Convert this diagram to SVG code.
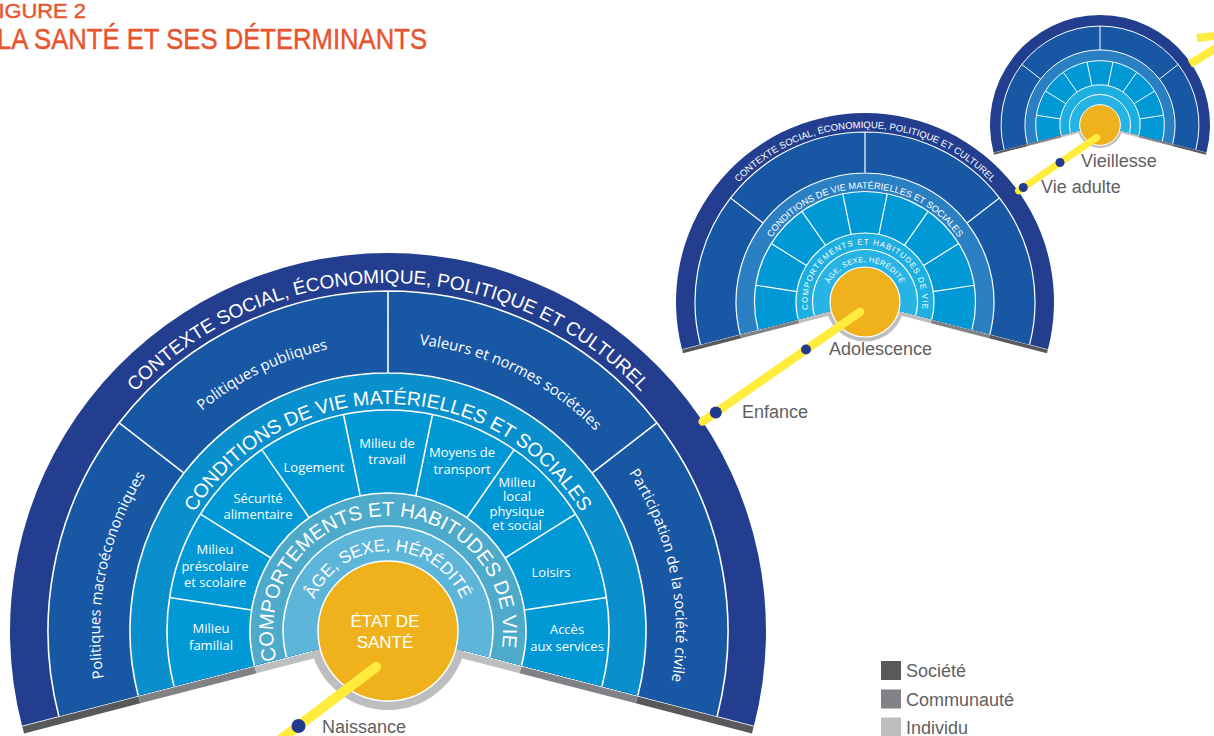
<svg xmlns="http://www.w3.org/2000/svg" width="1214" height="736" viewBox="0 0 1214 736">
<style>
  .ctx{fill:#243e8f}
  .pol{fill:#1857a4}
  .cond-l{fill:#0a8fcd}
  .cond{fill:#2b80c4}
  .cell{fill:#0098d5}
  .comp-l{fill:#4eaacb}
  .age-l{fill:#5db6da}
  .comp{fill:#1eafe1}
  .age{fill:#27b3e3}
  .sep{fill:none;stroke:#fff}
  .fan-l .sep{stroke-width:1.6}
  .fan-m .sep{stroke-width:2.4}
  .fan-s .sep{stroke-width:3.4}
  .core{fill:#f0b21c;stroke:#fff}
  .fan-l .core{stroke-width:1.5}
  .fan-m .core{stroke-width:2.4}
  .fan-s .core{stroke-width:3.4}
  .ring{fill:#bcbec0}
  .g1{fill:#58595b}
  .g2{fill:#808285}
  .g3{fill:#bcbec0}
  .ttl{font-family:"Liberation Sans",Arial,sans-serif;fill:#fff;text-anchor:middle}
  .lbl{font-family:"Open Sans","Liberation Sans",sans-serif;font-size:13px;fill:#fff;text-anchor:middle}
  .lbl-big{font-family:"Open Sans","Liberation Sans",sans-serif;font-size:15px;fill:#fff;text-anchor:middle}
  .core-txt{font-family:"Liberation Sans",Arial,sans-serif;font-size:17px;fill:#fff;text-anchor:middle}
  .tl{fill:none;stroke:#ffec3d}
  .dot{fill:#233a8c}
  .stage{font-family:"Liberation Sans",Arial,sans-serif;font-size:18px;fill:#5f6062}
  .head{font-family:"Liberation Sans",Arial,sans-serif;fill:#e8542d;stroke:#e8542d;stroke-width:0.45}
</style>
<defs>
  <!-- fan sectors around the origin, span -14.5deg .. 194.5deg -->
  <path id="sec-378" d="M0 0L-365.96 94.64A378 378 0 1 1 365.96 94.64Z"/>
  <path id="sec-340" d="M0 0L-329.17 85.13A340 340 0 1 1 329.17 85.13Z"/>
  <path id="sec-258" d="M0 0L-249.78 64.6A258 258 0 1 1 249.78 64.6Z"/>
  <path id="sec-221" d="M0 0L-213.96 55.33A221 221 0 1 1 213.96 55.33Z"/>
  <path id="sec-138" d="M0 0L-133.6 34.55A138 138 0 1 1 133.6 34.55Z"/>
  <path id="sec-105" d="M0 0L-101.66 26.29A105 105 0 1 1 101.66 26.29Z"/>
  <!-- white ring boundaries and radial dividers -->
  <path id="seps" d="M-329.17 85.13A340 340 0 1 1 329.17 85.13M-249.78 64.6A258 258 0 1 1 249.78 64.6M-213.96 55.33A221 221 0 1 1 213.96 55.33M-133.6 34.55A138 138 0 1 1 133.6 34.55M-101.66 26.29A105 105 0 1 1 101.66 26.29M204 -157.95L268.83 -208.15M0 -258V-340M-204 -157.95L-268.83 -208.15M136.4 -20.92L218.45 -33.51M117.1 -73.01L187.53 -116.93M78.82 -113.27L126.23 -181.4M27.78 -135.18L44.48 -216.48M-27.78 -135.18L-44.48 -216.48M-78.82 -113.27L-126.23 -181.4M-117.1 -73.01L-187.53 -116.93M-136.4 -20.92L-218.45 -33.51"/>
  <!-- grey bars under the two bottom edges -->
  <path id="bar-soc" d="M-249.53 65.57L-365.71 95.61L-363.96 102.39L-247.78 72.35ZM249.53 65.57L365.71 95.61L363.96 102.39L247.78 72.35Z"/>
  <path id="bar-com" d="M-133.35 35.52L-249.53 65.57L-247.78 72.35L-131.6 42.3ZM133.35 35.52L249.53 65.57L247.78 72.35L131.6 42.3Z"/>
  <path id="bar-ind" d="M-71.39 19.5L-133.35 35.52L-131.6 42.3L-69.64 26.28ZM71.39 19.5L133.35 35.52L131.6 42.3L69.64 26.28Z"/>
  <!-- baselines for curved titles -->
  <path id="arc-ctx" d="M-315.4 147.07A348 348 0 1 1 315.4 147.07"/>
  <path id="arc-cond" d="M-205.73 95.93A227 227 0 1 1 205.73 95.93"/>
  <path id="arc-comp" d="M-104.23 48.6A115 115 0 1 1 104.23 48.6"/>
  <path id="arc-age" d="M-72.5 33.81A80 80 0 1 1 72.5 33.81"/>
  <path id="arc-pub" d="M-287.34 -19.46A288 288 0 0 1 160.53 -239.11"/>
  <path id="arc-val" d="M-160.53 -239.11A288 288 0 0 1 287.34 -19.46"/>
  <path id="arc-mac" d="M-191.31 215.29A288 288 0 0 1 -90.79 -273.32"/>
  <path id="arc-par" d="M90.79 -273.32A288 288 0 0 1 191.31 215.29"/>
</defs>

<rect width="1214" height="736" fill="#fff"/>

<g id="title">
  <text class="head" x="-15" y="17.5" font-size="21" textLength="101" lengthAdjust="spacingAndGlyphs">FIGURE 2</text>
  <text class="head" x="-3" y="49" font-size="30" textLength="430" lengthAdjust="spacingAndGlyphs">LA SANTÉ ET SES DÉTERMINANTS</text>
</g>

<!-- old age -->
<g id="fan-old-age" class="fan-s" transform="translate(1100 125) scale(0.291)">
  <use href="#bar-soc" class="g1"/>
  <use href="#bar-com" class="g2"/>
  <use href="#bar-ind" class="g3"/>
  <circle r="79" class="ring"/>
  <use href="#sec-378" class="ctx"/>
  <use href="#sec-340" class="pol"/>
  <use href="#sec-258" class="cond"/>
  <use href="#sec-221" class="cell"/>
  <use href="#sec-138" class="comp"/>
  <use href="#sec-105" class="age"/>
  <use href="#seps" class="sep"/>
  <circle r="70" class="core"/>
</g>

<!-- adolescence -->
<g id="fan-adolescence" class="fan-m" transform="translate(865 302) scale(0.5)">
  <use href="#bar-soc" class="g1"/>
  <use href="#bar-com" class="g2"/>
  <use href="#bar-ind" class="g3"/>
  <circle r="79" class="ring"/>
  <use href="#sec-378" class="ctx"/>
  <use href="#sec-340" class="pol"/>
  <use href="#sec-258" class="cond"/>
  <use href="#sec-221" class="cell"/>
  <use href="#sec-138" class="comp"/>
  <use href="#sec-105" class="age"/>
  <use href="#seps" class="sep"/>
  <circle r="70" class="core"/>
  <text class="ttl" font-size="19"><textPath href="#arc-ctx" startOffset="50%">CONTEXTE SOCIAL, ÉCONOMIQUE, POLITIQUE ET CULTUREL</textPath></text>
  <text class="ttl" font-size="18.5"><textPath href="#arc-cond" startOffset="50%">CONDITIONS DE VIE MATÉRIELLES ET SOCIALES</textPath></text>
  <text class="ttl" font-size="16" letter-spacing="2"><textPath href="#arc-comp" startOffset="50%">COMPORTEMENTS ET HABITUDES DE VIE</textPath></text>
  <text class="ttl" font-size="15" letter-spacing="0.6"><textPath href="#arc-age" startOffset="50%">ÂGE, SEXE, HÉRÉDITÉ</textPath></text>
</g>

<!-- birth -->
<g id="fan-birth" class="fan-l" transform="translate(388 631)">
  <g id="birth-bars">
    <use href="#bar-soc" class="g1"/>
    <use href="#bar-com" class="g2"/>
    <use href="#bar-ind" class="g3"/>
    <circle r="79" class="ring"/>
  </g>
  <g id="birth-context">
    <use href="#sec-378" class="ctx"/>
    <use href="#sec-340" class="pol"/>
  </g>
  <g id="birth-conditions">
    <use href="#sec-258" class="cond-l"/>
    <use href="#sec-221" class="cell"/>
  </g>
  <g id="birth-behaviours">
    <use href="#sec-138" class="comp-l"/>
  </g>
  <g id="birth-age">
    <use href="#sec-105" class="age-l"/>
  </g>
  <use href="#seps" class="sep"/>
  <g id="birth-health">
    <circle r="70" class="core"/>
    <text class="core-txt" x="-3" y="-4">ÉTAT DE</text>
    <text class="core-txt" x="-3" y="17">SANTÉ</text>
  </g>

  <g id="birth-context-labels">
    <text class="ttl" font-size="19"><textPath href="#arc-ctx" startOffset="50%">CONTEXTE SOCIAL, ÉCONOMIQUE, POLITIQUE ET CULTUREL</textPath></text>
    <text class="lbl-big"><textPath href="#arc-mac" startOffset="50%">Politiques macroéconomiques</textPath></text>
    <text class="lbl-big"><textPath href="#arc-pub" startOffset="50%">Politiques publiques</textPath></text>
    <text class="lbl-big"><textPath href="#arc-val" startOffset="50%">Valeurs et normes sociétales</textPath></text>
    <text class="lbl-big"><textPath href="#arc-par" startOffset="50%">Participation de la société civile</textPath></text>
  </g>
  <g id="birth-conditions-labels">
    <text class="ttl" font-size="19.5"><textPath href="#arc-cond" startOffset="50%">CONDITIONS DE VIE MATÉRIELLES ET SOCIALES</textPath></text>
    <text class="lbl" x="-177" y="2">Milieu<tspan x="-177" dy="17">familial</tspan></text>
    <text class="lbl" x="-173" y="-77">Milieu<tspan x="-173" dy="16.5">préscolaire</tspan><tspan x="-173" dy="16.5">et scolaire</tspan></text>
    <text class="lbl" x="-130" y="-128">Sécurité<tspan x="-130" dy="16">alimentaire</tspan></text>
    <text class="lbl" x="-74" y="-159">Logement</text>
    <text class="lbl" x="-1" y="-183">Milieu de<tspan x="-1" dy="16">travail</tspan></text>
    <text class="lbl" x="74" y="-174">Moyens de<tspan x="74" dy="16.5">transport</tspan></text>
    <text class="lbl" x="129" y="-144">Milieu<tspan x="129" dy="14.4">local</tspan><tspan x="129" dy="14.4">physique</tspan><tspan x="129" dy="14.4">et social</tspan></text>
    <text class="lbl" x="163" y="-54">Loisirs</text>
    <text class="lbl" x="179" y="3">Accès<tspan x="179" dy="16.5">aux services</tspan></text>
  </g>
  <g id="birth-inner-labels">
    <text class="ttl" font-size="20"><textPath href="#arc-comp" startOffset="48.6%">COMPORTEMENTS ET HABITUDES DE VIE</textPath></text>
    <text class="ttl" font-size="17"><textPath href="#arc-age" startOffset="50%">ÂGE, SEXE, HÉRÉDITÉ</textPath></text>
  </g>
</g>

<!-- life course line -->
<g id="timeline">
  <path class="tl" stroke-width="10" stroke-linecap="round" d="M376 667L272 746"/>
  <path class="tl" stroke-width="8.5" stroke-linecap="round" d="M702.7 421.6L860 312"/>
  <path class="tl" stroke-width="7" stroke-linecap="round" d="M1018.5 190.8L1096.7 137.5"/>
  <path class="tl" stroke-width="8" d="M1190 64L1241 32.7M1197 38L1241 32.7L1220 71.4"/>
  <circle class="dot" cx="298.5" cy="726" r="7"/>
  <circle class="dot" cx="715.8" cy="412.5" r="6"/>
  <circle class="dot" cx="806" cy="349.5" r="5"/>
  <circle class="dot" cx="1023.3" cy="187.5" r="4.5"/>
  <circle class="dot" cx="1060" cy="162.5" r="4.5"/>
</g>

<g id="stages">
  <text class="stage" x="322" y="733">Naissance</text>
  <text class="stage" x="742" y="418">Enfance</text>
  <text class="stage" x="829" y="355">Adolescence</text>
  <text class="stage" x="1041" y="193">Vie adulte</text>
  <text class="stage" x="1081" y="167">Vieillesse</text>
</g>

<g id="legend">
  <rect class="g1" x="881" y="661" width="20" height="19"/>
  <text class="stage" x="906" y="677">Société</text>
  <rect class="g2" x="881" y="689.5" width="20" height="19"/>
  <text class="stage" x="906" y="706">Communauté</text>
  <rect class="g3" x="881" y="717.5" width="20" height="19"/>
  <text class="stage" x="906" y="734">Individu</text>
</g>
</svg>
